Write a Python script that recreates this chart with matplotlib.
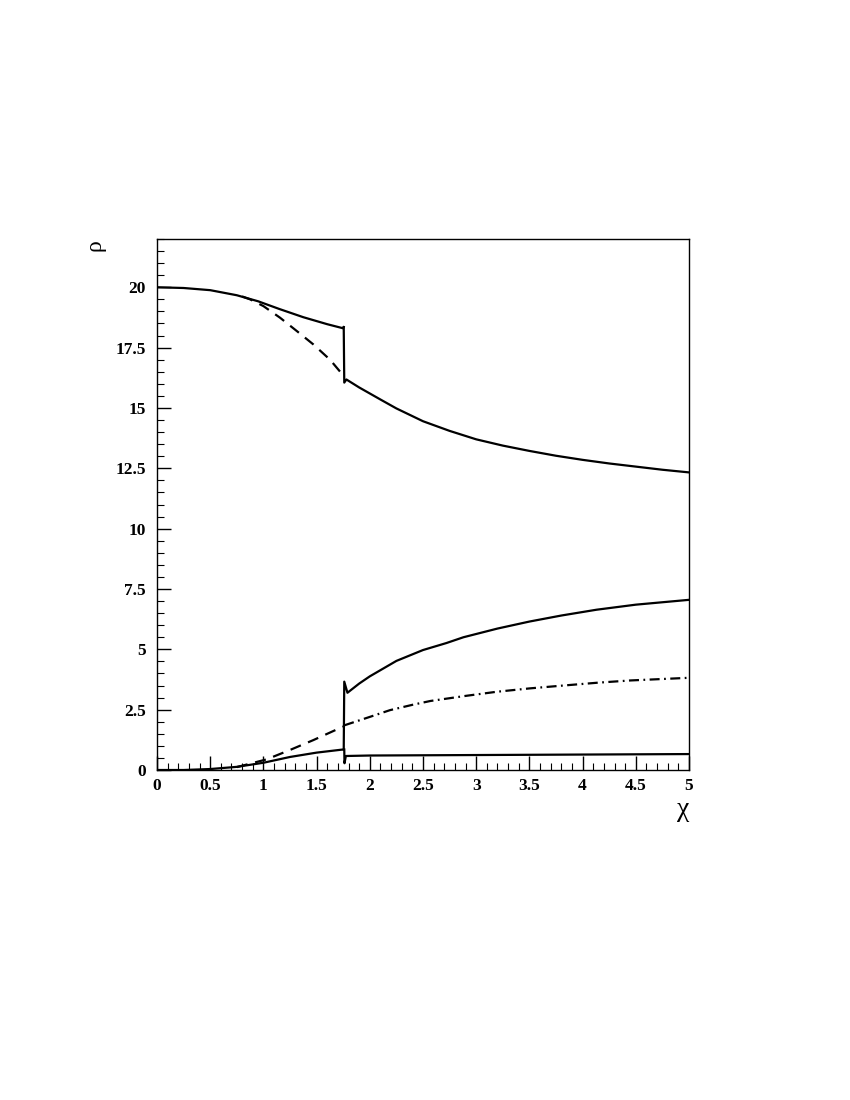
import matplotlib
matplotlib.use("Agg")
import matplotlib.pyplot as plt
from matplotlib.ticker import MultipleLocator

# ---- data ----
upper_solid_x = [0.0, 0.25, 0.5, 0.75, 0.95, 1.15, 1.375, 1.6, 1.75, 1.755]
upper_solid_y = [20.0, 19.97, 19.88, 19.67, 19.42, 19.1, 18.76, 18.47, 18.3, 18.35]

upper_after_x = [1.76, 1.78, 1.9, 2.0, 2.1, 2.25, 2.5, 2.75, 3.0, 3.25, 3.5, 3.75, 4.0, 4.25, 4.5, 4.75, 5.0]
upper_after_y = [16.05, 16.18, 15.85, 15.6, 15.35, 14.98, 14.45, 14.05, 13.7, 13.44, 13.22, 13.02, 12.85, 12.7, 12.57, 12.44, 12.33]

upper_dash_x = [0.8, 0.875, 1.0, 1.156, 1.313, 1.47, 1.626, 1.75]
upper_dash_y = [19.62, 19.5, 19.22, 18.74, 18.19, 17.63, 17.0, 16.35]

lower_solid_x = [0.0, 0.25, 0.5, 0.75, 1.0, 1.25, 1.5, 1.75]
lower_solid_y = [0.0, 0.0, 0.04, 0.13, 0.3, 0.54, 0.72, 0.85]

flat_x = [1.76, 1.762, 1.775, 2.0, 3.0, 4.0, 5.0]
flat_y = [0.85, 0.28, 0.58, 0.6, 0.62, 0.64, 0.66]

middle_x = [1.755, 1.76, 1.79, 1.9, 2.0, 2.25, 2.5, 2.72, 2.88, 3.2, 3.5, 3.8, 4.13, 4.5, 5.0]
middle_y = [0.85, 3.66, 3.2, 3.58, 3.88, 4.52, 4.97, 5.26, 5.5, 5.86, 6.15, 6.4, 6.64, 6.85, 7.05]

lower_dash_x = [0.75, 1.03, 1.25, 1.47, 1.75]
lower_dash_y = [0.12, 0.44, 0.83, 1.24, 1.8]

dashdot_x = [1.76, 2.0, 2.19, 2.4, 2.57, 2.9, 3.19, 3.5, 3.82, 4.15, 4.45, 4.75, 5.0]
dashdot_y = [1.85, 2.2, 2.48, 2.7, 2.86, 3.07, 3.24, 3.38, 3.5, 3.62, 3.71, 3.77, 3.82]

x_ticks = [0, 0.5, 1, 1.5, 2, 2.5, 3, 3.5, 4, 4.5, 5]
x_labels = ["0", "0.5", "1", "1.5", "2", "2.5", "3", "3.5", "4", "4.5", "5"]
y_ticks = [0, 2.5, 5, 7.5, 10, 12.5, 15, 17.5, 20]
y_labels = ["0", "2.5", "5", "7.5", "10", "12.5", "15", "17.5", "20"]

plt.rcParams['font.family'] = ['Liberation Serif', 'DejaVu Serif']

fig = plt.figure(figsize=(8.5, 11), dpi=100)
ax = fig.add_axes([157/850, 1-770/1100, (689-157)/850, (770-239)/1100])

lw = 1.6
dash = (0, (5, 3.5))
dashdot = (0, (4.5, 2, 0.8, 2))
ax.plot(upper_solid_x, upper_solid_y, color='black', lw=lw)
ax.plot([upper_solid_x[-1]] + upper_after_x, [upper_solid_y[-1]] + upper_after_y, color='black', lw=lw)
ax.plot(upper_dash_x, upper_dash_y, color='black', lw=lw, linestyle=dash)
ax.plot(lower_solid_x, lower_solid_y, color='black', lw=lw)
ax.plot(flat_x, flat_y, color='black', lw=lw)
ax.plot(middle_x, middle_y, color='black', lw=lw)
ax.plot(lower_dash_x, lower_dash_y, color='black', lw=lw, linestyle=dash)
ax.plot(dashdot_x, dashdot_y, color='black', lw=lw, linestyle=dashdot)

ax.set_xlim(0, 5)
ax.set_ylim(0, 22)
ax.set_xticks(x_ticks)
ax.set_xticklabels(x_labels)
ax.set_yticks(y_ticks)
ax.set_yticklabels(y_labels)
ax.xaxis.set_minor_locator(MultipleLocator(0.1))
ax.yaxis.set_minor_locator(MultipleLocator(0.5))
ax.tick_params(axis='both', which='major', direction='in', length=10, width=1,
               labelsize=12.5, top=False, right=False)
ax.tick_params(axis='both', which='minor', direction='in', length=5, width=0.8,
               top=False, right=False)
ax.tick_params(axis='x', pad=6)
ax.tick_params(axis='y', pad=8)
for lab in ax.get_xticklabels() + ax.get_yticklabels():
    lab.set_fontweight('bold')
for s in ax.spines.values():
    s.set_linewidth(1.0)

fig.text(95/850, 1-245/1100, 'ρ', rotation=90, fontsize=17, ha='center', va='center')
fig.text(683/850, 1-810/1100, 'χ', fontsize=20, ha='center', va='center')

fig.savefig('out.png', dpi=100)
